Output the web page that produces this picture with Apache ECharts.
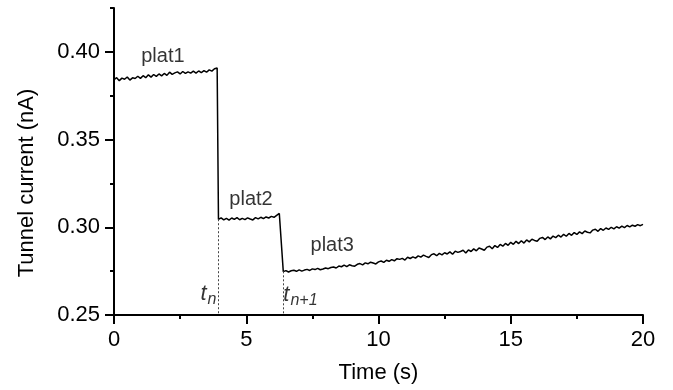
<!DOCTYPE html>
<html>
<head>
<meta charset="utf-8">
<script src="https://cdn.jsdelivr.net/npm/echarts@6/dist/echarts.min.js"></script>
<style>
  html, body { margin: 0; padding: 0; background: #fff; }
  #main { width: 673px; height: 390px; }
</style>
</head>
<body>
<div id="main"></div>
<script>
// sampled current (nA), one value every 0.1 s from each segment start
const sampleStep = 0.1;
const segmentStart = [0, 3.95, 6.40];

const plat1 = [
  0.3841, 0.3853, 0.3836, 0.3850, 0.3844, 0.3857, 0.3839, 0.3852, 0.3848, 0.3861,
  0.3849, 0.3864, 0.3853, 0.3869, 0.3856, 0.3871, 0.3860, 0.3874, 0.3863, 0.3877,
  0.3866, 0.3884, 0.3872, 0.3880, 0.3886, 0.3874, 0.3888, 0.3877, 0.3886, 0.3879,
  0.3890, 0.3879, 0.3891, 0.3881, 0.3893, 0.3884, 0.3897, 0.3890, 0.3904, 0.3908
];

const plat2 = [
  0.3045, 0.3054, 0.3042, 0.3051, 0.3041, 0.3053, 0.3045, 0.3055, 0.3043, 0.3051,
  0.3044, 0.3054, 0.3047, 0.3042, 0.3055, 0.3048, 0.3057, 0.3049, 0.3059, 0.3053,
  0.3062, 0.3057, 0.3068, 0.3079
];

const plat3 = [
  0.2747, 0.2753, 0.2745, 0.2752, 0.2755, 0.2749, 0.2757, 0.2750, 0.2756, 0.2760,
  0.2754, 0.2763, 0.2759, 0.2766, 0.2758, 0.2762, 0.2768, 0.2764, 0.2771, 0.2774,
  0.2768, 0.2779, 0.2775, 0.2784, 0.2776, 0.2786, 0.2781, 0.2778, 0.2789, 0.2793,
  0.2786, 0.2797, 0.2792, 0.2801, 0.2796, 0.2791, 0.2803, 0.2808, 0.2800, 0.2812,
  0.2806, 0.2816, 0.2809, 0.2821, 0.2817, 0.2823, 0.2813, 0.2829, 0.2822, 0.2831,
  0.2824, 0.2837, 0.2830, 0.2841, 0.2834, 0.2828, 0.2844, 0.2849, 0.2838, 0.2851,
  0.2843, 0.2855, 0.2848, 0.2860, 0.2846, 0.2864, 0.2857, 0.2862, 0.2869, 0.2853,
  0.2871, 0.2862, 0.2877, 0.2866, 0.2882, 0.2876, 0.2869, 0.2887, 0.2892, 0.2878,
  0.2896, 0.2885, 0.2902, 0.2892, 0.2908, 0.2897, 0.2914, 0.2903, 0.2920, 0.2907,
  0.2923, 0.2910, 0.2928, 0.2917, 0.2932, 0.2925, 0.2920, 0.2937, 0.2942, 0.2930,
  0.2945, 0.2934, 0.2950, 0.2941, 0.2955, 0.2944, 0.2960, 0.2949, 0.2965, 0.2954,
  0.2970, 0.2959, 0.2974, 0.2964, 0.2979, 0.2972, 0.2968, 0.2984, 0.2989, 0.2977,
  0.2993, 0.2983, 0.2996, 0.2988, 0.3000, 0.2991, 0.3003, 0.2995, 0.3007, 0.2998,
  0.3010, 0.3002, 0.3012, 0.3006, 0.3015, 0.3009, 0.3017
];

// step times t_n, t_n+1 and the current level where the dashed marker starts
const stepTimes = [3.94, 6.40];
const stepLevels = [0.3046, 0.2749];

const yTicks = [0.25, 0.30, 0.35, 0.40];
const xTicks = [0, 5, 10, 15, 20];

// text notes placed in data coordinates
const noteText = ['plat1', 'plat2', 'plat3', '{t|t}{s|n}', '{t|t}{s|n+1}'];
const noteTime = [1.85, 5.18, 8.25, 3.57, 7.05];
const noteLevel = [0.3976, 0.3156, 0.2896, 0.2620, 0.2617];

const trace = [];
[plat1, plat2, plat3].forEach((vals, k) => {
  vals.forEach((v, i) => {
    trace.push([+(segmentStart[k] + i * sampleStep).toFixed(2), v]);
  });
});

const font = 'Liberation Sans, Arial, sans-serif';
const black = '#000';
const tickLine = { color: black, width: 2 };

const chart = echarts.init(document.getElementById('main'));
chart.setOption({
  animation: false,
  backgroundColor: '#fff',
  textStyle: { fontFamily: font, color: black },
  grid: { left: 114, right: 30, top: 8, bottom: 75, containLabel: false },
  xAxis: {
    type: 'value',
    min: xTicks[0],
    max: xTicks[xTicks.length - 1],
    interval: 5,
    name: 'Time (s)',
    nameLocation: 'middle',
    nameGap: 47,
    nameTextStyle: { fontSize: 22, color: black, fontFamily: font },
    axisLine: { show: true, lineStyle: tickLine },
    axisTick: { show: true, inside: false, length: 9, lineStyle: tickLine },
    minorTick: { show: true, splitNumber: 2, length: 4, lineStyle: tickLine },
    axisLabel: { fontSize: 22, color: black, margin: 14, fontFamily: font },
    splitLine: { show: false },
    minorSplitLine: { show: false }
  },
  yAxis: [
    {
      type: 'value',
      min: 0.25,
      max: 0.425,
      interval: 0.025,
      name: 'Tunnel current (nA)',
      nameLocation: 'middle',
      nameGap: 76,
      nameTextStyle: { fontSize: 22, color: black, fontFamily: font, padding: [0, 43, 0, 0] },
      axisLine: { show: true, lineStyle: tickLine },
      axisTick: { show: true, inside: false, length: 4, lineStyle: tickLine },
      axisLabel: {
        fontSize: 22, color: black, margin: 14, fontFamily: font,
        customValues: yTicks,
        formatter: v => v.toFixed(2)
      },
      splitLine: { show: false }
    },
    {
      type: 'value',
      min: 0.25,
      max: 0.425,
      position: 'left',
      axisLine: { show: false },
      axisTick: { show: true, inside: false, length: 9, customValues: yTicks, lineStyle: tickLine },
      axisLabel: { show: false },
      splitLine: { show: false }
    }
  ],
  series: [
    {
      type: 'line',
      data: trace,
      yAxisIndex: 0,
      showSymbol: false,
      symbol: 'none',
      lineStyle: { color: black, width: 1.5 },
      markLine: {
        silent: true,
        symbol: ['none', 'none'],
        label: { show: false },
        lineStyle: { color: '#444', width: 1, type: [2, 2] },
        data: stepTimes.map((t, i) => [
          { coord: [t, stepLevels[i]] },
          { coord: [t, 0.25] }
        ])
      }
    },
    {
      type: 'scatter',
      yAxisIndex: 0,
      symbolSize: 0,
      silent: true,
      itemStyle: { color: black },
      data: noteText.map((txt, i) => ({ name: txt, value: [noteTime[i], noteLevel[i]] })),
      label: {
        show: true,
        position: 'inside',
        formatter: p => p.name,
        fontSize: 20,
        color: black,
        textBorderWidth: 0,
        textBorderColor: 'transparent',
        fontFamily: font,
        rich: {
          t: { fontSize: 22, fontStyle: 'italic', color: black, fontFamily: font, verticalAlign: 'top', lineHeight: 22, textBorderWidth: 0 },
          s: { fontSize: 16, fontStyle: 'italic', color: black, fontFamily: font, verticalAlign: 'top', lineHeight: 16, padding: [9, 0, 0, 1], textBorderWidth: 0 }
        }
      }
    }
  ]
});
</script>
</body>
</html>
